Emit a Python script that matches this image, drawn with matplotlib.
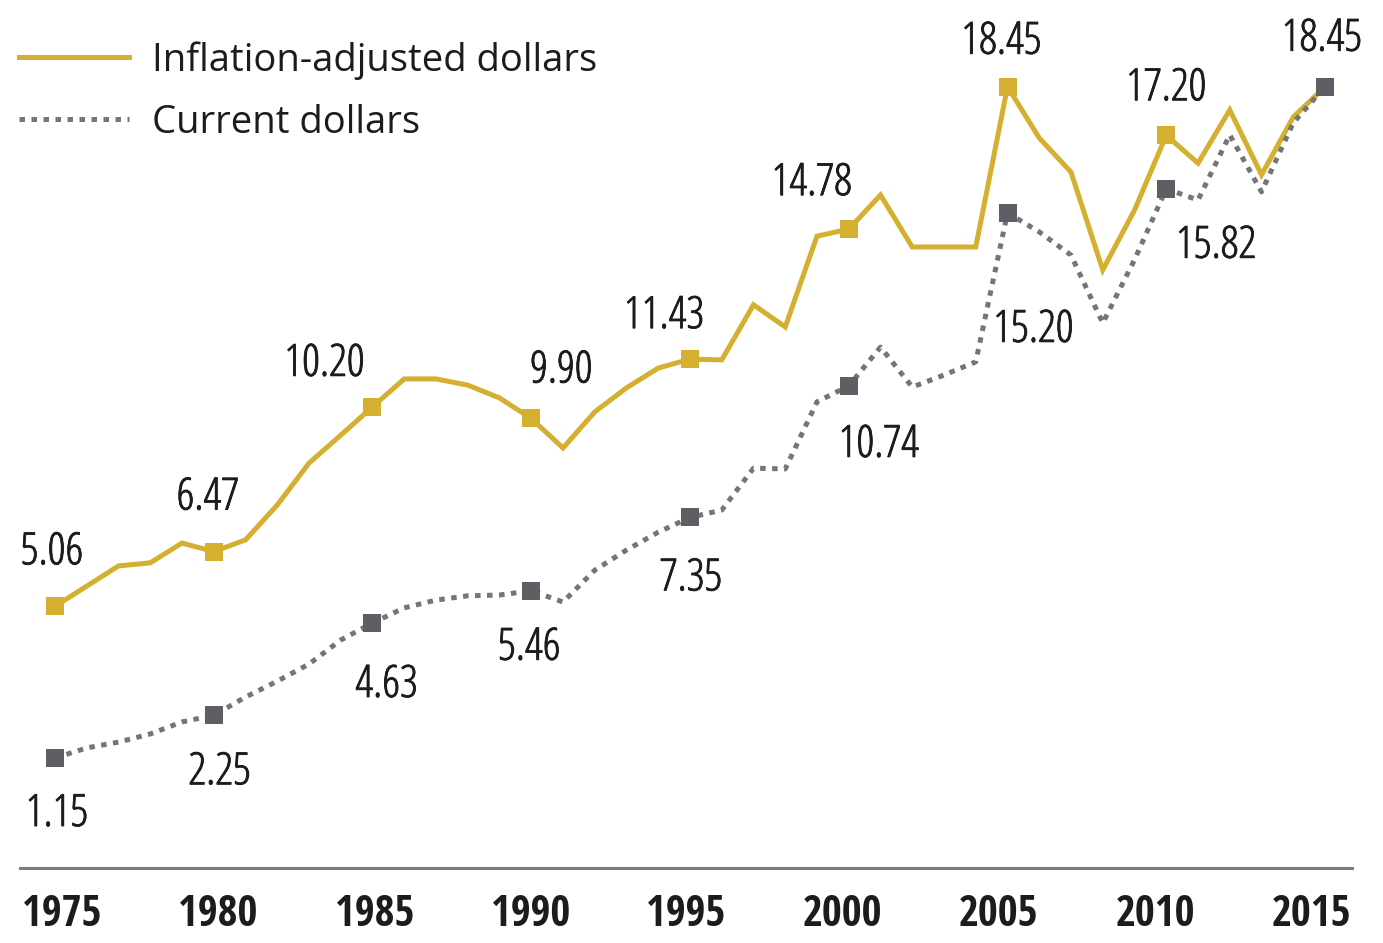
import matplotlib
matplotlib.use("Agg")
from matplotlib import pyplot as plt
from matplotlib import patheffects
from matplotlib.transforms import ScaledTranslation

plt.rcParams['font.family'] = ['Open Sans', 'DejaVu Sans']

years = list(range(1975, 2016))

inflation_adjusted = [
    5.06, 5.58, 6.10, 6.18, 6.69, 6.47, 6.77, 7.67, 8.75, 9.47,
    10.20, 10.92, 10.92, 10.76, 10.43, 9.90, 9.14, 10.07, 10.69, 11.20,
    11.43, 11.41, 12.83, 12.26, 14.60, 14.78, 15.66, 14.32, 14.32, 14.32,
    18.45, 17.13, 16.25, 13.73, 15.27, 17.20, 16.48, 17.85, 16.18, 17.67,
    18.45,
]
current_dollars = [
    1.15, 1.41, 1.56, 1.77, 2.08, 2.25, 2.72, 3.13, 3.57, 4.19,
    4.63, 5.02, 5.22, 5.33, 5.35, 5.46, 5.17, 5.99, 6.51, 6.97,
    7.35, 7.54, 8.62, 8.60, 10.33, 10.74, 11.74, 10.71, 11.02, 11.36,
    15.20, 14.71, 14.11, 12.36, 13.99, 15.82, 15.53, 17.21, 15.74, 17.52,
    18.45,
]

mark_years = [1975, 1980, 1985, 1990, 1995, 2000, 2005, 2010, 2015]
# label offsets in pixels (dx, dy to the text baseline)
infl_offsets = [(-3, 42), (-6, 42), (-48, 31), (30, 36), (-26, 31),
                (-37, 34), (-6, 33), (0, 35), (-3, 36)]
curr_offsets = [(2, -68), (6, -69), (14, -74), (-2, -69), (1, -73),
                (30, -71), (26, -129), (50, -69), (0, 0)]
# small horizontal nudges of the year labels, in pixels
year_nudge = [7, 4, 2, -1, -4, -6, -9, -11, -13]

gold = '#D5AF2F'
grey_line = '#747479'
grey_mark = '#5E5E64'
ink = '#1c1c1c'
bolder = [patheffects.withStroke(linewidth=0.6, foreground=ink)]

fig = plt.figure(figsize=(13.83, 9.43), dpi=100)
ax = fig.add_axes([20 / 1383, 1 - 868 / 943, 1332 / 1383, 868 / 943])
ax.set_xlim(1973.898, 2015.850)
ax.set_ylim(-1.685, 20.686)

line_infl, = ax.plot(years, inflation_adjusted, color=gold, lw=3.6,
                     solid_joinstyle='miter', label='Inflation-adjusted dollars')
line_curr, = ax.plot(years, current_dollars, color=grey_line, lw=3.6,
                     dashes=(1.1, 1.3), label='Current dollars')

infl_marks = [inflation_adjusted[years.index(y)] for y in mark_years]
curr_marks = [current_dollars[years.index(y)] for y in mark_years]
ax.plot(mark_years[:-1], infl_marks[:-1], ls='none', marker='s', ms=13,
        color=gold, mew=0)
ax.plot(mark_years, curr_marks, ls='none', marker='s', ms=13,
        color=grey_mark, mew=0)

for y, v, off in zip(mark_years, infl_marks, infl_offsets):
    ax.annotate(f"{v:.2f}", (y, v), xytext=off, textcoords='offset pixels',
                ha='center', va='baseline', fontsize=32, fontstretch='condensed',
                color=ink, path_effects=bolder)
for y, v, off in zip(mark_years[:-1], curr_marks[:-1], curr_offsets[:-1]):
    ax.annotate(f"{v:.2f}", (y, v), xytext=off, textcoords='offset pixels',
                ha='center', va='baseline', fontsize=32, fontstretch='condensed',
                color=ink, path_effects=bolder)

for s in ['top', 'left', 'right']:
    ax.spines[s].set_visible(False)
ax.spines['bottom'].set_color('#7d7d7d')
ax.spines['bottom'].set_linewidth(2.2)
ax.set_yticks([])
ax.set_xticks(mark_years)
ax.set_xticklabels([str(y) for y in mark_years], fontsize=31,
                   family=['Open Sans Condensed', 'DejaVu Sans'],
                   fontweight='bold', color=ink)
ax.tick_params(axis='x', length=0, pad=18)
for lab, dx in zip(ax.get_xticklabels(), year_nudge):
    lab.set_transform(lab.get_transform() +
                      ScaledTranslation(dx / 100, 0, fig.dpi_scale_trans))

leg = ax.legend(handles=[line_infl, line_curr], loc='upper left',
                bbox_to_anchor=(8 / 1383, 1 - 29.5 / 943), bbox_transform=fig.transFigure,
                frameon=False, prop={'family': 'Open Sans', 'size': 27.5},
                handlelength=2.88, handletextpad=0.6, labelspacing=0.63,
                borderpad=0.3, borderaxespad=0)
for t in leg.get_texts():
    t.set_color(ink)

fig.savefig('out.png', dpi=100)
